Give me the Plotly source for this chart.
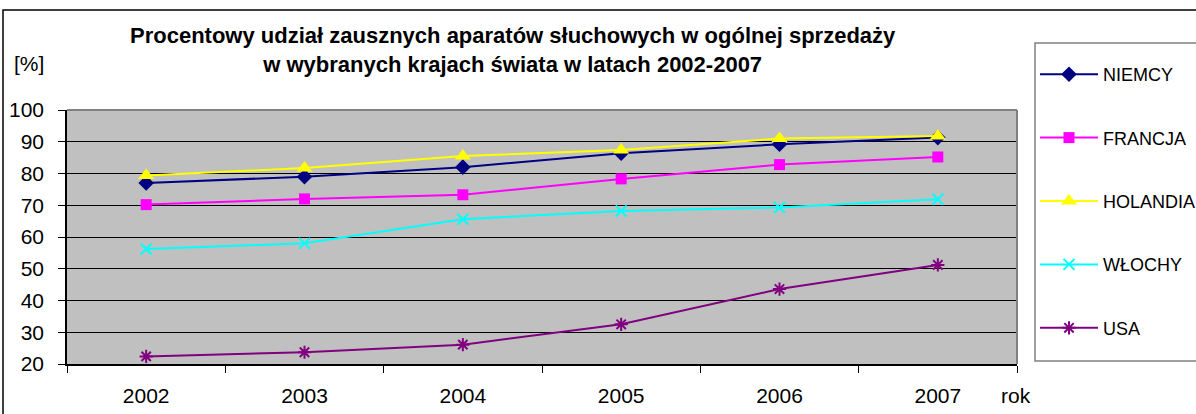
import plotly.graph_objects as go

years = ["2002", "2003", "2004", "2005", "2006", "2007"]
niemcy = [77, 79, 82, 86.4, 89.2, 91.3]
francja = [70.2, 72, 73.3, 78.3, 82.8, 85.2]
holandia = [79.4, 81.7, 85.5, 87.4, 91, 91.8]
wlochy = [56.2, 58, 65.6, 68.2, 69.3, 71.9]
usa = [22.4, 23.7, 26.1, 32.5, 43.6, 51.2]

series = [
    ("NIEMCY", niemcy, "#000080", "diamond", 12),
    ("FRANCJA", francja, "#FF00FF", "square", 11),
    ("HOLANDIA", holandia, "#FFFF00", "triangle-up", 14),
    ("WŁOCHY", wlochy, "#00FFFF", "x-thin", 11),
    ("USA", usa, "#800080", "asterisk", 11),
]

FONT = "Liberation Sans, Arial, sans-serif"

fig = go.Figure()
for i, (name, vals, color, sym, size) in enumerate(series):
    thin = sym in ("x-thin", "asterisk")
    fig.add_trace(go.Scatter(
        x=years, y=vals, name=name, mode="lines+markers",
        legendgroup=f"g{i}",
        line=dict(color=color, width=2),
        marker=dict(symbol=sym, size=size, color=color,
                    line=dict(color=color, width=2 if thin else 0)),
    ))

W, H = 1196, 414
L, R, T, B = 67, 179, 110, 50
pw, ph = W - L - R, H - T - B

def px_x(p):
    return (p - L) / pw

def px_y(p):
    return (H - B - p) / ph

fig.update_layout(
    width=W, height=H,
    margin=dict(l=L, r=R, t=T, b=B, autoexpand=False),
    paper_bgcolor="white",
    plot_bgcolor="#C0C0C0",
    font=dict(family=FONT, size=21, color="black"),
    showlegend=True,
    legend=dict(
        x=px_x(1035), y=px_y(43), xanchor="left", yanchor="top",
        borderwidth=0, bgcolor="rgba(0,0,0,0)",
        font=dict(size=18, family=FONT),
        title=dict(text=" ", font=dict(size=10)),
        tracegroupgap=37, itemwidth=58, maxheight=400,
    ),
    xaxis=dict(
        type="category", tickson="boundaries", ticks="outside", ticklen=7,
        range=[-0.5, len(years) - 0.5],
        tickcolor="black", showline=True, linecolor="black", linewidth=1.5,
        showgrid=False, ticklabelstandoff=12,
        tickfont=dict(size=21, family=FONT),
    ),
    yaxis=dict(
        range=[20, 100], dtick=10, ticks="outside", ticklen=7, tickcolor="black",
        showline=True, linecolor="black", linewidth=1.5,
        gridcolor="black", gridwidth=1, ticklabelstandoff=10,
        tickfont=dict(size=21, family=FONT), zeroline=False,
    ),
    shapes=[
        dict(type="line", xref="paper", yref="paper", x0=0, x1=1, y0=1, y1=1,
             line=dict(color="#808080", width=2)),
        dict(type="line", xref="paper", yref="paper", x0=1, x1=1, y0=0, y1=1,
             line=dict(color="#808080", width=2)),
        dict(type="rect", xref="paper", yref="paper",
             x0=px_x(3), x1=px_x(1210), y0=px_y(430), y1=px_y(10),
             line=dict(color="black", width=1.5)),
        dict(type="rect", xref="paper", yref="paper",
             x0=px_x(1035), x1=px_x(1210), y0=px_y(361), y1=px_y(43),
             line=dict(color="#808080", width=1.5)),
    ],
    annotations=[
        dict(text="<b>Procentowy udział zausznych aparatów słuchowych w ogólnej sprzedaży<br>w wybranych krajach świata w latach 2002-2007</b>",
             xref="paper", yref="paper", x=px_x(513), y=px_y(50), xanchor="center",
             yanchor="middle", showarrow=False, align="center",
             font=dict(size=22, family=FONT)),
        dict(text="[%]", xref="paper", yref="paper", x=px_x(12), y=px_y(63),
             xanchor="left", yanchor="middle", showarrow=False,
             font=dict(size=21, family=FONT)),
        dict(text="rok", xref="paper", yref="paper", x=px_x(999), y=px_y(395),
             xanchor="left", yanchor="middle", showarrow=False,
             font=dict(size=21, family=FONT)),
    ],
)

fig.write_html("out.html", config={"displayModeBar": False},
               post_script="document.body.style.margin='0';")
